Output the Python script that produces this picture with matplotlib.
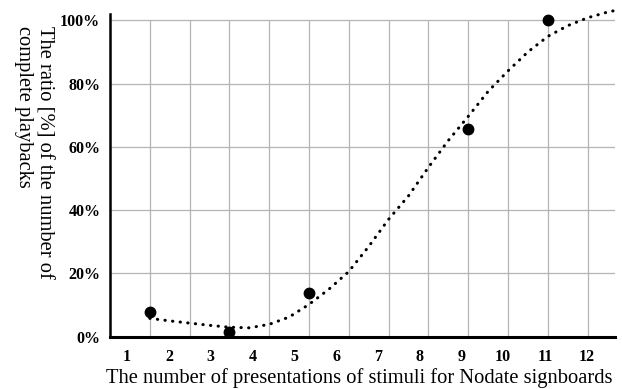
import matplotlib
matplotlib.use('Agg')
import matplotlib.pyplot as plt
import numpy as np

# x values are in grid units (one vertical grid line per presentation)
obs_x = [1, 3, 5, 9, 11]
obs_y = [7.7, 1.4, 13.7, 65.8, 100.0]

# dotted trend line
trend_x = [1.0, 1.5, 2.0, 2.5, 3.0, 3.5, 4.0, 4.5, 5.0, 5.5, 6.0, 6.5, 7.0,
           7.5, 8.0, 8.5, 9.0, 9.5, 10.0, 10.5, 11.0, 11.5, 12.0, 12.5, 12.8]
trend_y = [5.8, 5.0, 4.3, 3.6, 3.0, 2.8, 3.9, 6.2, 10.2, 15.0, 20.6, 28.5, 37.1,
           44.5, 53.5, 62.0, 69.6, 77.5, 84.0, 90.0, 94.9, 98.3, 100.8, 102.6, 103.4]

x_labels = [str(i) for i in range(1, 13)]
y_ticks = [0, 20, 40, 60, 80, 100]

plt.rcParams['font.family'] = 'Liberation Serif'

fig = plt.figure(figsize=(6.22, 3.89), dpi=100)
ax = fig.add_axes([110 / 622, 1 - 336.7 / 389, 505 / 622, (336.7 - 14) / 389])
ax.set_xlim(0, 12.69)
ax.set_ylim(0, 102)

# grid
ax.vlines(np.arange(1, 13), 0, 100, color='#b4b4b4', lw=0.9, zorder=1)
ax.hlines(y_ticks[1:], 0, 12.69, color='#b4b4b4', lw=0.9, zorder=1)

ax.plot(trend_x, trend_y, color='black', lw=2.2, linestyle=(0, (0.1, 2.4)),
        dash_capstyle='round', clip_on=False, zorder=3)
ax.plot(obs_x, obs_y, 'o', color='black', ms=7.5, clip_on=False, zorder=4)

for s in ['top', 'right']:
    ax.spines[s].set_visible(False)
ax.spines['left'].set_linewidth(1.8)
ax.spines['bottom'].set_linewidth(2.2)

ax.set_xticks(np.linspace(0.43, 11.98, 12))
ax.set_xticklabels(x_labels, fontweight='bold', fontsize=11.5)
ax.set_yticks(y_ticks)
ax.set_yticklabels([f'{v}%' for v in y_ticks], fontweight='bold', fontsize=11.5)
ax.tick_params(length=0)
ax.tick_params(axis='y', pad=7)
ax.tick_params(axis='x', pad=9)

fig.text(359 / 622, 1 - 383 / 389, 'The number of presentations of stimuli for Nodate signboards',
         ha='center', va='baseline', fontsize=14.8)
fig.text(34 / 622, 1 - 26 / 389, 'The ratio [%] of the number of\ncomplete playbacks',
         rotation=270, ha='center', va='top', multialignment='left', fontsize=14.8,
         linespacing=1.1)

fig.savefig('out.png', dpi=100)
